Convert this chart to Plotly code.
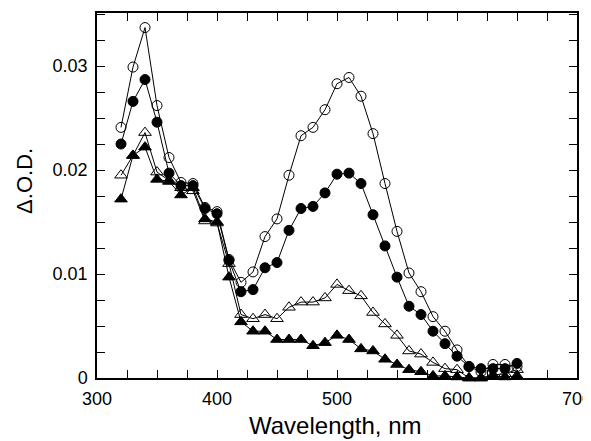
import plotly.graph_objects as go

wavelength = [320, 330, 340, 350, 360, 370, 380, 390, 400, 410, 420, 430, 440, 450, 460, 470, 480,
              490, 500, 510, 520, 530, 540, 550, 560, 570, 580, 590, 600, 610, 620, 630, 640, 650]

open_circles = [0.0241, 0.0299, 0.0337, 0.0262, 0.0212, 0.0188, 0.0187, 0.0164, 0.0160, 0.0114,
                0.0092, 0.0102, 0.0136, 0.0153, 0.0195, 0.0233, 0.0241, 0.0258, 0.0283, 0.0289,
                0.0271, 0.0235, 0.0187, 0.0141, 0.0101, 0.0083, 0.0059, 0.0045, 0.0027, 0.0011,
                0.0006, 0.0013, 0.0013, 0.0011]

filled_circles = [0.0225, 0.0266, 0.0287, 0.0246, 0.0197, 0.0185, 0.0185, 0.0163, 0.0158, 0.0113,
                  0.0083, 0.0085, 0.0106, 0.0111, 0.0142, 0.0163, 0.0165, 0.0178, 0.0196, 0.0197,
                  0.0187, 0.0157, 0.0127, 0.0097, 0.0069, 0.0061, 0.0045, 0.0033, 0.0021, 0.0011,
                  0.0009, 0.0009, 0.0009, 0.0014]

open_triangles = [0.0195, 0.0214, 0.0236, 0.0198, 0.0190, 0.0183, 0.0180, 0.0151, 0.0149, 0.0110,
                  0.0061, 0.0057, 0.0061, 0.0057, 0.0068, 0.0073, 0.0073, 0.0077, 0.0090, 0.0084,
                  0.0079, 0.0063, 0.0052, 0.0041, 0.0026, 0.0023, 0.0015, 0.0009, 0.0008, 0.0000,
                  0.0000, 0.0003, 0.0004, 0.0008]

filled_triangles = [0.0172, 0.0214, 0.0222, 0.0191, 0.0189, 0.0176, 0.0183, 0.0153, 0.0150, 0.0097,
                    0.0054, 0.0045, 0.0045, 0.0037, 0.0037, 0.0037, 0.0031, 0.0034, 0.0041, 0.0037,
                    0.0028, 0.0026, 0.0018, 0.0013, 0.0008, 0.0006, 0.0002, 0.0002, 0.0001, 0.0000,
                    0.0000, 0.0002, 0.0001, 0.0002]

x_ticks = [300, 400, 500, 600, 700]
y_ticks = [0, 0.01, 0.02, 0.03]
y_tick_labels = ["0", "0.01", "0.02", "0.03"]

FONT = "Arial, Liberation Sans, Helvetica, sans-serif"

fig = go.Figure()

series = [
    (open_circles, "circle-open"),
    (filled_circles, "circle"),
    (open_triangles, "triangle-up-open"),
    (filled_triangles, "triangle-up"),
]
for vals, sym in series:
    fig.add_trace(go.Scatter(
        x=wavelength, y=vals, mode="lines+markers",
        line=dict(color="black", width=1),
        marker=dict(symbol=sym, size=10 if "circle" in sym else 11, color="black",
                    line=dict(color="black", width=1)),
        showlegend=False, cliponaxis=False,
    ))

axis_common = dict(
    showline=True, linecolor="black", linewidth=1.5, mirror="allticks",
    ticks="inside", ticklen=8, tickwidth=1, tickcolor="black",
    showgrid=False, zeroline=False, automargin=False,
    ticklabeloverflow="allow", ticklabelstandoff=4,
    tickfont=dict(family=FONT, size=18, color="black"),
)

fig.update_xaxes(range=[300, 700], tickvals=x_ticks, ticktext=[str(v) for v in x_ticks],
                 minor=dict(dtick=25, tick0=300, ticks="inside", ticklen=8, tickcolor="black", showgrid=False),
                 **axis_common)
fig.update_yaxes(range=[0, 0.0351], tickvals=y_ticks, ticktext=y_tick_labels,
                 minor=dict(dtick=0.0025, tick0=0, ticks="inside", ticklen=8, tickcolor="black", showgrid=False),
                 **axis_common)

fig.add_annotation(text="Wavelength, nm", xref="paper", yref="paper", x=0.497, y=-0.13,
                   xanchor="center", yanchor="middle", showarrow=False,
                   font=dict(family=FONT, size=24, color="black"))
fig.add_annotation(text="\u0394.O.D.", xref="paper", yref="paper", x=-0.15, y=0.54,
                   xanchor="center", yanchor="middle", textangle=-90, showarrow=False,
                   font=dict(family=FONT, size=22, color="black"))

# the page body adds an 8px offset; compensate so the plot area lands where the reference has it
fig.update_layout(
    width=583, height=433,
    margin=dict(l=89, r=14, t=5, b=63),
    plot_bgcolor="white", paper_bgcolor="white",
)

fig.write_html("out.html")
